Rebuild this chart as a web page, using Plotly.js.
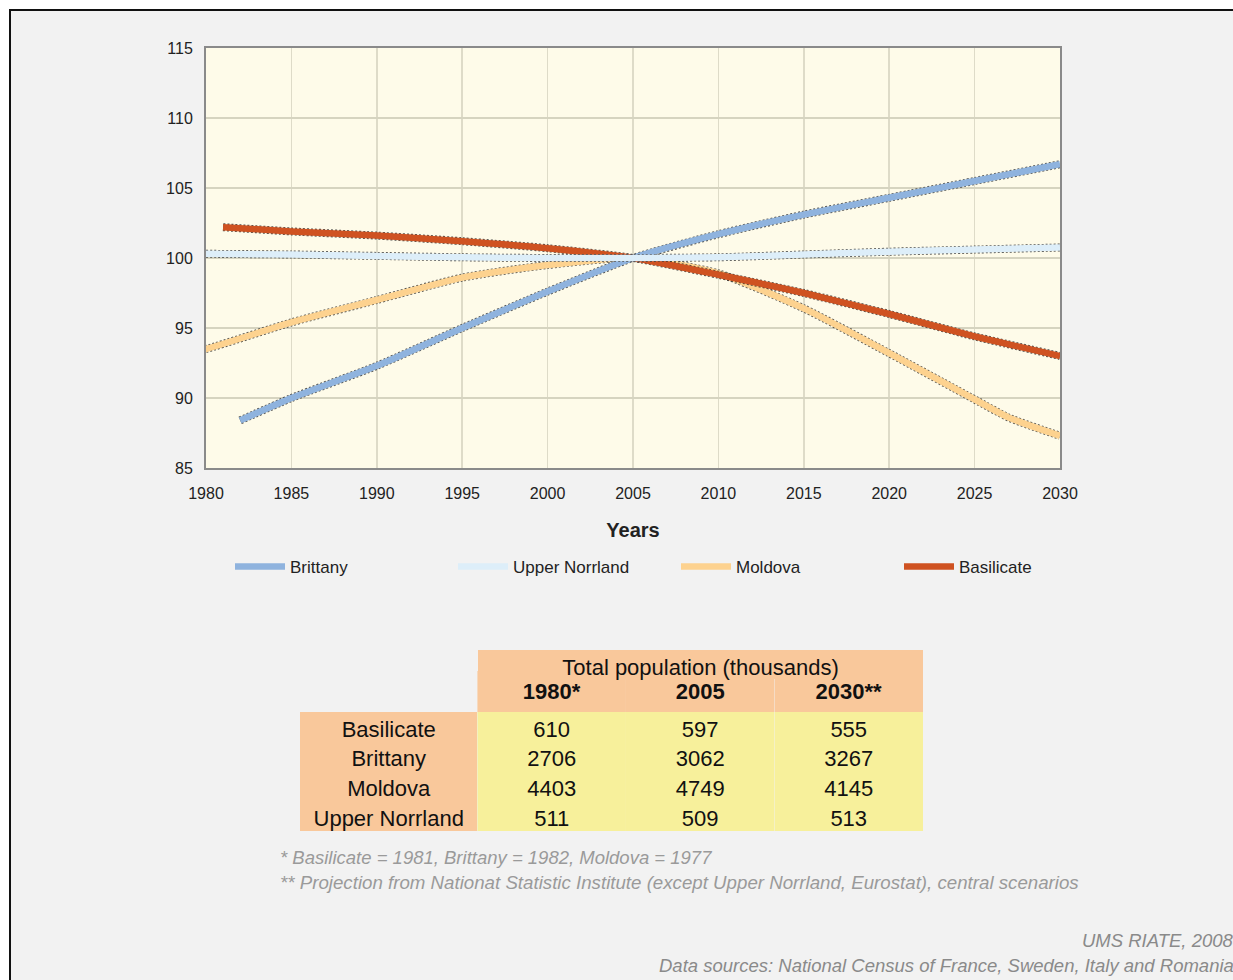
<!DOCTYPE html>
<html>
<head>
<meta charset="utf-8">
<script src="https://cdn.plot.ly/plotly-3.0.1.min.js"></script>
<style>
  html, body { margin:0; padding:0; background:#ffffff; width:1233px; height:980px; overflow:hidden; }
  #panel { position:absolute; left:9px; top:9px; width:1230px; height:975px; background:#f2f2f2;
           border-left:2px solid #111; border-top:2px solid #111; }
  #chart { position:absolute; left:0; top:0; width:1233px; height:980px; }
</style>
</head>
<body>
<div id="panel"></div>
<div id="chart"></div>
<script>
// ---- Line chart data (index, 2005 = 100) ----
const brittanyYears = [1982, 1985, 1990, 1995, 2000, 2005, 2010, 2015, 2020, 2025, 2030];
const brittanyIndex = [88.4, 90.0, 92.3, 95.0, 97.6, 100, 101.7, 103.1, 104.3, 105.5, 106.7];

const norrlandYears = [1980, 1985, 1990, 1995, 2000, 2005, 2010, 2015, 2020, 2025, 2030];
const norrlandIndex = [100.3, 100.25, 100.15, 100.05, 100.0, 100, 100.05, 100.25, 100.45, 100.6, 100.75];

const moldovaYears = [1977, 1980, 1985, 1990, 1995, 2000, 2005, 2010, 2015, 2020, 2025, 2027, 2030];
const moldovaIndex = [92.7, 93.5, 95.4, 97.0, 98.6, 99.5, 100, 98.9, 96.4, 93.2, 89.9, 88.6, 87.3];

const basilicateYears = [1981, 1985, 1990, 1995, 2000, 2005, 2010, 2015, 2020, 2025, 2030];
const basilicateIndex = [102.2, 101.9, 101.6, 101.2, 100.7, 100, 98.8, 97.5, 96.0, 94.4, 93.0];

// ---- Table data ----
const tableTitle = "Total population (thousands)";
const tableYears = ["1980*", "2005", "2030**"];
const tableRegions = ["Basilicate", "Brittany", "Moldova", "Upper Norrland"];
const pop1980 = [610, 2706, 4403, 511];
const pop2005 = [597, 3062, 4749, 509];
const pop2030 = [555, 3267, 4145, 513];

const footnote1 = "* Basilicate = 1981, Brittany = 1982, Moldova = 1977";
const footnote2 = "** Projection from Nationat Statistic Institute (except Upper Norrland, Eurostat), central scenarios";
const credit1 = "UMS RIATE, 2008";
const credit2 = "Data sources: National Census of France, Sweden, Italy and Romania";

const W = 1233, H = 980;
const px = v => v / W;
const py = v => 1 - v / H;

const FONT = "Liberation Sans, Arial, sans-serif";

function seriesPair(name, xs, ys, color, rank) {
  return [
    { type:'scatter', mode:'lines', x:xs, y:ys, showlegend:false, hoverinfo:'skip',
      line:{ color:'rgba(40,40,40,0.8)', width:8, dash:'2px,2px', shape:'spline', smoothing:0.6 } },
    { type:'scatter', mode:'lines', name:name, x:xs, y:ys, legendrank:rank,
      line:{ color:color, width:6.5, shape:'spline', smoothing:0.6 } }
  ];
}

const traces = [
  ...seriesPair('Moldova', moldovaYears, moldovaIndex, '#fdd28f', 3),
  ...seriesPair('Basilicate', basilicateYears, basilicateIndex, '#cf5221', 4),
  ...seriesPair('Brittany', brittanyYears, brittanyIndex, '#8fb3de', 1),
  ...seriesPair('Upper Norrland', norrlandYears, norrlandIndex, '#ddeef9', 2)
];

const peach = '#f9c89b';
const yellow = '#f7f09b';
const TFONT = { family:FONT, size:22, color:'#111' };
const nb = s => String(s).replace(/ /g, '\u00a0');

// Main table (years header + rows)
traces.push({
  type:'table',
  domain:{ x:[px(300), px(924)], y:[py(840), py(671)] },
  columnwidth:[178, 149, 149, 149],
  header:{ values:['', '<b>' + tableYears[0] + '</b>', '<b>' + tableYears[1] + '</b>', '<b>' + tableYears[2] + '</b>'],
           height:29, align:'center',
           fill:{ color:['rgba(0,0,0,0)', peach, peach, peach] },
           line:{ width:0, color:'rgba(0,0,0,0)' }, font:TFONT },
  cells:{ values:[tableRegions.map(nb), pop1980, pop2005, pop2030],
          height:29.75, align:'center',
          fill:{ color:[peach, yellow, yellow, yellow] },
          line:{ width:0, color:'rgba(0,0,0,0)' }, font:TFONT }
});

// Merged title header spanning the three year columns
traces.push({
  type:'table',
  domain:{ x:[px(478), px(924)], y:[py(700), py(650)] },
  columnwidth:[1],
  header:{ values:[tableTitle], height:29, align:'center',
           fill:{ color:peach }, line:{ color:peach, width:0 }, font:TFONT },
  cells:{ values:[['']], height:1, fill:{ color:'rgba(0,0,0,0)' }, line:{ width:0, color:'rgba(0,0,0,0)' } }
});

const layout = {
  width:W, height:H,
  paper_bgcolor:'rgba(0,0,0,0)',
  plot_bgcolor:'#fefbe9',
  margin:{ l:0, r:0, t:0, b:0, pad:0 },
  font:{ family:FONT, color:'#222' },
  showlegend:true,
  xaxis:{ domain:[px(206), px(1060)], range:[1980, 2030], dtick:5, tick0:1980,
          showgrid:true, gridcolor:'#dedbc8', gridwidth:1.5,
          showline:true, mirror:true, linecolor:'#8a8a8a', linewidth:2, ticks:'', zeroline:false,
          tickfont:{ size:16, color:'#222' }, ticklabelstandoff:10,
          title:{ text:'<b>Years</b>', font:{ size:20, color:'#222' }, standoff:22 } },
  yaxis:{ domain:[py(468), py(48)], range:[85, 115], dtick:5, tick0:85,
          showgrid:true, gridcolor:'#d6d4c0', gridwidth:1.5,
          showline:true, mirror:true, linecolor:'#8a8a8a', linewidth:2, ticks:'', zeroline:false,
          tickfont:{ size:16, color:'#222' }, ticklabelstandoff:8 },
  legend:{ orientation:'h', x:px(230), y:py(567), xanchor:'left', yanchor:'middle',
           itemwidth:50, entrywidth:158, entrywidthmode:'pixels', traceorder:'normal',
           font:{ size:17, color:'#222' }, bgcolor:'rgba(0,0,0,0)' },
  annotations:[
    { xref:'paper', yref:'paper', x:px(278), y:py(857), xanchor:'left', yanchor:'middle', showarrow:false,
      text:'<i>' + footnote1 + '</i>', font:{ size:18.5, color:'#9a9a9a' } },
    { xref:'paper', yref:'paper', x:px(278), y:py(882), xanchor:'left', yanchor:'middle', showarrow:false,
      text:'<i>' + footnote2 + '</i>', font:{ size:18.7, color:'#9a9a9a' } },
    { xref:'paper', yref:'paper', x:px(1236), y:py(940), xanchor:'right', yanchor:'middle', showarrow:false,
      text:'<i>' + credit1 + '</i>', font:{ size:18.5, color:'#8a8a8a' } },
    { xref:'paper', yref:'paper', x:px(1236), y:py(965), xanchor:'right', yanchor:'middle', showarrow:false,
      text:'<i>' + credit2 + '</i>', font:{ size:18.5, color:'#8a8a8a' } }
  ]
};

Plotly.newPlot('chart', traces, layout, { displayModeBar:false, staticPlot:true });
</script>
</body>
</html>
